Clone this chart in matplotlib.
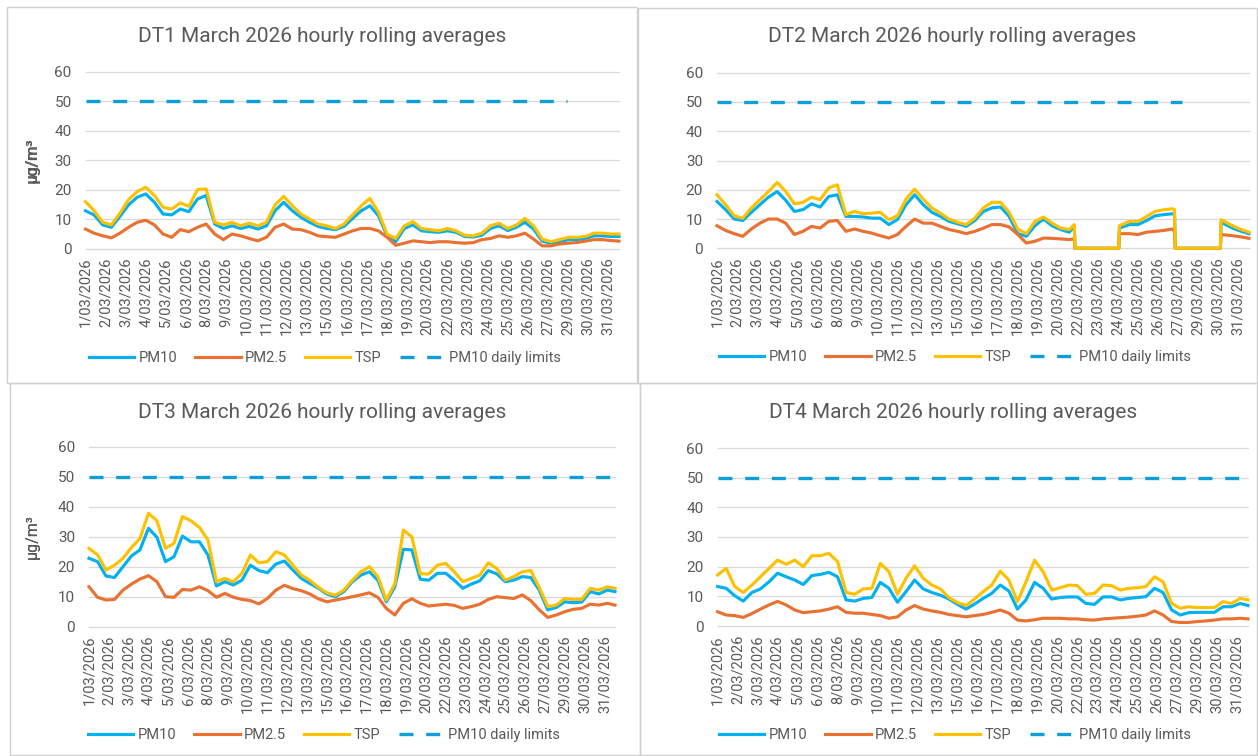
import matplotlib
matplotlib.use('Agg')
import matplotlib.pyplot as plt
from matplotlib.patches import Rectangle

plt.rcParams['font.family'] = ['Roboto', 'DejaVu Sans']

# hour index within March 2026 (12-hourly readings)
hours = list(range(0, 744, 12)) + [743]
# DT2 has two outages where the logger reported zero
dt2_hours = (list(range(0, 493, 12)) + [499, 500, 561, 562]
             + list(range(576, 637, 12)) + [639, 640, 703, 704, 720, 732, 743])

tick_hours = list(range(0, 744, 28))
tick_labels = [f"{h // 24 + 1}/03/2026" for h in tick_hours]

limit = 50
limit_end = [671, 649, 743, 743]

dt1_pm10 = [12.8, 11.4, 8.0, 7.2, 10.9, 14.8, 17.4, 18.5, 15.7, 11.7,
            11.4, 13.4, 12.5, 16.8, 18.0, 8.3, 6.8, 7.7, 6.8, 7.5,
            6.6, 7.7, 12.8, 15.7, 12.8, 10.6, 8.9, 7.5, 6.8, 6.4,
            7.5, 10.2, 12.8, 14.5, 11.1, 4.3, 2.3, 6.8, 8.0, 6.0,
            5.7, 5.5, 6.0, 5.5, 4.1, 3.9, 4.5, 6.8, 7.7, 6.1,
            7.2, 8.9, 6.6, 2.5, 1.8, 2.3, 3.0, 3.0, 3.4, 4.3,
            4.3, 4.1, 4.1]
dt1_pm25 = [6.6, 5.2, 4.3, 3.6, 5.2, 7.2, 8.9, 9.6, 8.0, 4.9,
            3.8, 6.4, 5.7, 7.2, 8.3, 4.9, 3.0, 4.9, 4.3, 3.4,
            2.6, 3.8, 7.2, 8.3, 6.6, 6.4, 5.5, 4.3, 4.0, 3.8,
            4.9, 6.0, 6.8, 6.8, 6.0, 3.8, 1.1, 1.8, 2.6, 2.3,
            2.0, 2.3, 2.3, 2.0, 1.8, 2.0, 3.0, 3.4, 4.3, 3.8,
            4.3, 5.2, 3.2, 0.9, 0.9, 1.5, 1.8, 2.0, 2.5, 3.0,
            3.0, 2.7, 2.5]
dt1_tsp = [15.9, 12.8, 8.9, 8.0, 12.0, 16.6, 19.3, 20.8, 18.0, 14.0,
           13.4, 15.5, 14.3, 20.0, 20.2, 8.9, 8.0, 8.9, 7.7, 8.6,
           7.7, 8.9, 14.8, 17.7, 14.5, 11.7, 10.0, 8.3, 7.7, 6.8,
           8.3, 11.4, 14.5, 17.0, 12.3, 4.9, 3.4, 7.7, 9.1, 6.8,
           6.4, 6.0, 6.8, 6.0, 4.5, 4.3, 5.2, 7.7, 8.6, 6.8,
           8.0, 10.2, 7.7, 3.2, 2.3, 3.0, 3.8, 3.8, 4.1, 5.2,
           5.2, 4.9, 4.9]

dt2_pm10 = [16.0, 13.2, 10.0, 9.5, 12.3, 14.9, 17.5, 19.4, 16.4, 12.6,
            13.2, 15.2, 14.1, 17.7, 18.3, 10.9, 10.9, 10.7, 10.3, 10.3,
            8.1, 9.8, 14.9, 18.3, 14.9, 12.3, 10.9, 9.2, 8.4, 7.5,
            9.5, 12.6, 13.8, 14.1, 10.9, 5.0, 4.1, 7.7, 10.0, 7.7,
            6.4, 5.5,
            7.5, 0, 0, 6.9,
            8.1, 8.1, 9.5, 11.1, 11.5, 11.8,
            11.5, 0, 0, 8.9,
            6.9, 5.8, 5.0]
dt2_pm25 = [7.7, 6.1, 5.0, 4.1, 6.6, 8.6, 10.0, 10.0, 8.6, 4.7,
            5.8, 7.5, 6.9, 9.2, 9.5, 5.8, 6.6, 5.8, 5.2, 4.3,
            3.5, 4.7, 7.5, 10.0, 8.6, 8.6, 7.5, 6.4, 5.8, 5.0,
            5.8, 6.9, 8.1, 8.1, 7.3, 4.7, 1.8, 2.4, 3.5, 3.4,
            3.2, 3.0,
            3.2, 0, 0, 5.0,
            5.0, 4.7, 5.5, 5.8, 6.1, 6.6,
            5.8, 0, 0, 4.7,
            4.3, 3.9, 3.4]
dt2_tsp = [18.3, 14.9, 11.1, 10.3, 13.8, 16.6, 19.4, 22.5, 19.4, 15.2,
           15.7, 17.5, 16.6, 20.6, 21.7, 11.5, 12.6, 11.8, 12.0, 12.3,
           9.8, 11.1, 16.8, 20.2, 16.8, 13.8, 12.0, 10.0, 8.9, 8.1,
           10.3, 13.8, 15.7, 15.7, 12.3, 6.6, 5.0, 9.2, 10.7, 8.6,
           6.9, 6.4,
           8.1, 0, 0, 7.7,
           9.2, 9.2, 10.9, 12.6, 13.2, 13.5,
           13.2, 0, 0, 9.8,
           7.7, 6.4, 5.5]

dt3_pm10 = [22.8, 21.7, 16.9, 16.4, 20.0, 23.6, 25.6, 32.8, 29.8, 21.7,
            23.3, 30.2, 28.3, 28.3, 23.9, 13.6, 15.0, 13.9, 15.5, 20.5,
            18.7, 18.0, 20.9, 21.9, 18.9, 16.1, 14.4, 12.8, 10.9, 10.0,
            11.7, 15.0, 17.2, 18.3, 15.5, 8.3, 13.3, 25.8, 25.6, 15.8,
            15.5, 17.8, 17.8, 15.5, 12.8, 14.2, 15.3, 18.7, 17.6, 15.0,
            15.5, 16.7, 16.4, 12.2, 5.6, 6.4, 8.3, 8.0, 8.2, 11.7,
            10.9, 12.2, 11.7]
dt3_pm25 = [13.3, 9.8, 8.9, 9.1, 12.2, 14.2, 15.9, 17.0, 15.0, 10.0,
            9.8, 12.4, 12.2, 13.3, 12.0, 9.8, 11.1, 9.8, 9.1, 8.7,
            7.6, 9.4, 12.2, 13.8, 12.7, 12.0, 10.9, 9.3, 8.3, 8.9,
            9.4, 10.0, 10.6, 11.3, 9.8, 6.1, 3.9, 7.8, 9.3, 7.8,
            6.9, 7.2, 7.5, 7.1, 6.1, 6.7, 7.5, 9.1, 10.0, 9.7,
            9.4, 10.6, 8.7, 5.6, 3.1, 3.9, 5.0, 5.8, 6.1, 7.5,
            7.2, 7.8, 7.2]
dt3_tsp = [26.1, 24.0, 18.9, 20.5, 22.8, 26.4, 29.4, 37.8, 35.3, 26.1,
           27.8, 36.7, 35.3, 33.1, 28.9, 15.0, 16.1, 15.0, 17.8, 23.9,
           21.3, 21.7, 25.0, 23.9, 20.5, 17.2, 15.5, 13.1, 11.3, 10.5,
           12.2, 15.5, 18.3, 20.0, 16.7, 8.9, 14.4, 32.2, 30.0, 17.6,
           17.6, 20.5, 21.1, 18.3, 15.0, 16.1, 17.2, 21.3, 19.4, 15.5,
           16.7, 18.3, 18.7, 13.1, 6.7, 7.2, 9.4, 9.1, 9.1, 12.8,
           12.2, 13.3, 12.8]

dt4_pm10 = [13.3, 12.7, 10.2, 8.4, 11.3, 12.5, 14.9, 17.8, 16.6, 15.5,
            14.0, 17.0, 17.4, 18.1, 16.6, 8.8, 8.4, 9.3, 9.6, 14.7,
            12.7, 8.0, 11.6, 15.5, 12.5, 11.3, 10.4, 9.1, 7.3, 5.7,
            7.4, 9.3, 11.0, 13.8, 11.8, 5.7, 8.8, 14.7, 12.7, 9.1,
            9.6, 9.8, 9.8, 7.6, 7.3, 9.8, 9.8, 8.8, 9.3, 9.6,
            9.9, 12.7, 11.3, 5.4, 3.7, 4.5, 4.6, 4.6, 4.6, 6.5,
            6.5, 7.6, 6.9]
dt4_pm25 = [4.8, 3.7, 3.5, 2.9, 4.2, 5.7, 7.1, 8.3, 7.1, 5.4,
            4.5, 4.8, 5.1, 5.7, 6.5, 4.6, 4.3, 4.3, 3.9, 3.5,
            2.6, 3.1, 5.4, 6.9, 5.7, 5.1, 4.6, 3.9, 3.5, 3.1,
            3.5, 3.9, 4.6, 5.4, 4.3, 2.0, 1.7, 2.1, 2.6, 2.6,
            2.6, 2.4, 2.4, 2.1, 2.0, 2.4, 2.6, 2.8, 3.0, 3.3,
            3.7, 5.1, 3.7, 1.5, 1.2, 1.2, 1.5, 1.7, 2.0, 2.4,
            2.4, 2.6, 2.4]
dt4_tsp = [17.2, 19.4, 13.3, 11.3, 13.8, 16.6, 19.4, 22.2, 20.8, 22.2,
           20.0, 23.7, 23.7, 24.5, 21.7, 11.3, 10.7, 12.5, 12.7, 21.1,
           18.3, 10.7, 16.1, 20.3, 16.1, 13.8, 12.5, 9.6, 7.9, 6.9,
           9.1, 11.6, 13.8, 18.5, 15.5, 8.2, 14.9, 22.2, 18.3, 12.1,
           12.9, 13.8, 13.6, 10.7, 11.0, 13.8, 13.6, 12.1, 12.7, 12.9,
           13.3, 16.6, 14.9, 7.6, 6.0, 6.5, 6.2, 6.2, 6.2, 8.2,
           7.6, 9.3, 8.8]

PM10_C = '#00B0F0'
PM25_C = '#E97132'
TSP_C = '#FFC000'
LIM_C = '#0F9ED5'
TXT_C = '#595959'
GRID_C = '#D9D9D9'

W, H = 1258, 756
fig = plt.figure(figsize=(W / 100, H / 100), dpi=100)

# name, x, pm10, pm25, tsp, frame box, plot box, title pos, legend pos (pixels)
panels = [
    ('DT1', hours, dt1_pm10, dt1_pm25, dt1_tsp,
     (7, 7, 637, 383), (85.5, 71.7, 619, 248.5), (322, 36), (325, 358)),
    ('DT2', dt2_hours, dt2_pm10, dt2_pm25, dt2_tsp,
     (638, 8, 1257, 383), (717, 72.7, 1249, 248.3), (952, 36), (955, 357)),
    ('DT3', hours, dt3_pm10, dt3_pm25, dt3_tsp,
     (10, 383, 640, 755), (89, 446.7, 615, 626.7), (322, 412), (324, 735)),
    ('DT4', hours, dt4_pm10, dt4_pm25, dt4_tsp,
     (640, 383, 1257, 755), (717.6, 448, 1248, 626), (953, 412), (955, 735)),
]

for i, (name, x, pm10, pm25, tsp, box, pbox, tpos, lpos) in enumerate(panels):
    bx0, by0, bx1, by1 = box
    fig.add_artist(Rectangle((bx0 / W, 1 - by1 / H), (bx1 - bx0) / W, (by1 - by0) / H,
                             transform=fig.transFigure, fill=False,
                             edgecolor='#D0D0D0', lw=1))
    px0, py0, px1, py1 = pbox
    ax = fig.add_axes([px0 / W, 1 - py1 / H, (px1 - px0) / W, (py1 - py0) / H])

    ax.plot(x, pm10, color=PM10_C, lw=2.25, label='PM10',
            solid_joinstyle='round', clip_on=False, zorder=3)
    ax.plot(x, pm25, color=PM25_C, lw=2.25, label='PM2.5',
            solid_joinstyle='round', clip_on=False, zorder=3)
    ax.plot(x, tsp, color=TSP_C, lw=2.25, label='TSP',
            solid_joinstyle='round', clip_on=False, zorder=3)
    ax.plot([0, limit_end[i]], [limit, limit], color=LIM_C, lw=2.4,
            dashes=(4.2, 3.8), label='PM10 daily limits', zorder=3)

    ax.set_xlim(0, 743)
    ax.set_ylim(0, 60)
    ax.set_yticks(range(0, 61, 10))
    ax.set_xticks(tick_hours)
    ax.set_xticklabels(tick_labels, rotation=90)
    ax.tick_params(length=0, colors=TXT_C, labelsize=10.5)
    ax.tick_params(axis='y', pad=10, labelsize=11)
    ax.tick_params(axis='x', pad=6.5)
    ax.grid(axis='y', color=GRID_C, lw=0.9)
    for gl in ax.get_ygridlines():
        gl.set_clip_on(False)
    ax.set_axisbelow(True)
    for s in ['top', 'right', 'left']:
        ax.spines[s].set_visible(False)
    ax.spines['bottom'].set_color(GRID_C)
    ax.spines['bottom'].set_zorder(1)
    ax.set_ylabel('µg/m³', color=TXT_C, fontsize=11.5)
    ax.yaxis.set_label_coords((40 - px0) / (px1 - px0), 0.5)

    fig.text(tpos[0] / W, 1 - tpos[1] / H, f'{name} March 2026 hourly rolling averages',
             ha='center', va='center', fontsize=15, color=TXT_C)
    ax.legend(loc='center', bbox_to_anchor=(lpos[0] / W, 1 - lpos[1] / H),
              bbox_transform=fig.transFigure, ncol=4, frameon=False, fontsize=10.5,
              handlelength=3.1, handletextpad=0.3, columnspacing=1.25,
              labelcolor=TXT_C)

fig.savefig('out.png', dpi=100, facecolor='white')
